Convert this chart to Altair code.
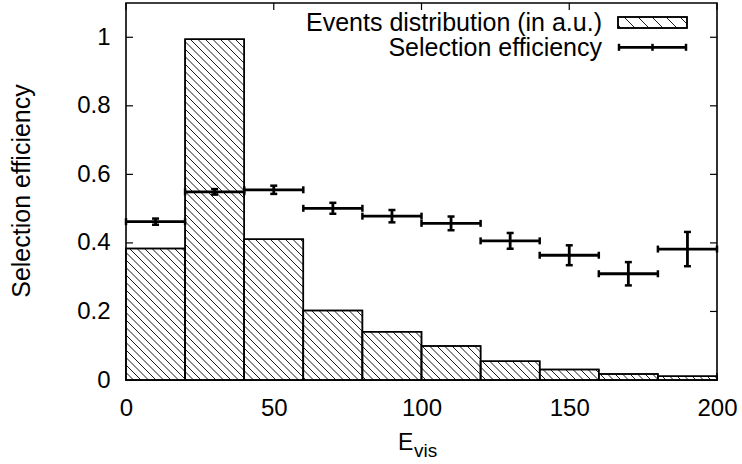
import math
import altair as alt
import pandas as pd

# ---------------- data ----------------
bin_lo = [0, 20, 40, 60, 80, 100, 120, 140, 160, 180]
bin_hi = [20, 40, 60, 80, 100, 120, 140, 160, 180, 200]
dist = [0.384, 0.994, 0.411, 0.203, 0.141, 0.099, 0.055, 0.031, 0.0175, 0.011]
eff_mid = [10, 30, 50, 70, 90, 110, 130, 150, 170, 190]
eff = [0.462, 0.549, 0.555, 0.501, 0.478, 0.457, 0.406, 0.364, 0.310, 0.382]
eff_err = [0.009, 0.008, 0.012, 0.016, 0.018, 0.020, 0.023, 0.029, 0.034, 0.050]
x_ticks = [0, 50, 100, 150, 200]
y_ticks = [0, 0.2, 0.4, 0.6, 0.8, 1.0]
legend_labels = ["Events distribution (in a.u.)", "Selection efficiency"]
x_title_main = "E"
x_title_sub = "vis"
y_title = "Selection efficiency"

# ---------------- layout / style ----------------
W, H = 591, 377
X_MAX, Y_MAX = 200, 1.1
FONT = "Liberation Sans"
sx = W / X_MAX
sy = H / Y_MAX
HATCH_STEP = 7.5

xs = alt.Scale(domain=[0, X_MAX], nice=False, zero=False)
ys = alt.Scale(domain=[0, Y_MAX], nice=False, zero=False)


def hatch_segments(u0, u1, h, step, phase=0.0):
    """'\\' hatch lines (u + w = c) clipped to the box [u0,u1] x [0,h] (pixels)."""
    segs = []
    c = math.floor((u0 - phase) / step) * step + phase
    while c < u1 + h:
        ua = max(u0, c - h)
        ub = min(u1, c)
        if ub - ua > 0.3:
            segs.append((ua, c - ua, ub, c - ub))
        c += step
    return segs


bars = pd.DataFrame({"lo": bin_lo, "hi": bin_hi, "v": dist})

rows = []
for lo, hi, v in zip(bin_lo, bin_hi, dist):
    for ua, wa, ub, wb in hatch_segments(lo * sx, hi * sx, v * sy, HATCH_STEP):
        rows.append({"x1": ua / sx, "y1": wa / sy, "x2": ub / sx, "y2": wb / sy})
hatch = pd.DataFrame(rows)

effdf = pd.DataFrame({
    "lo": bin_lo, "hi": bin_hi, "mid": eff_mid, "e": eff,
    "elo": [e - d for e, d in zip(eff, eff_err)],
    "ehi": [e + d for e, d in zip(eff, eff_err)],
})

xt = pd.DataFrame({"x": x_ticks})
yt = pd.DataFrame({"y": y_ticks})

X_AXIS = alt.Axis(values=x_ticks, title=None, ticks=False, tickSize=0, domain=False,
                  grid=False, labelFontSize=24, labelFont=FONT, labelColor="black",
                  labelPadding=16, labelFlush=False)
Y_AXIS = alt.Axis(values=y_ticks, format="~g", title=None, ticks=False, tickSize=0,
                  domain=False, grid=False, labelFontSize=24, labelFont=FONT,
                  labelColor="black", labelPadding=16, labelFlush=False)


def X(f):
    return alt.X(f, scale=xs, axis=X_AXIS)


def Y(f):
    return alt.Y(f, scale=ys, axis=Y_AXIS)


layers = []

# inward ticks on all four sides
TL = 7
layers.append(alt.Chart(yt).mark_rule(color="black", strokeWidth=1.2).encode(
    y=Y("y:Q"), x=alt.value(0), x2=alt.value(TL)))
layers.append(alt.Chart(yt).mark_rule(color="black", strokeWidth=1.2).encode(
    y=Y("y:Q"), x=alt.value(W - TL), x2=alt.value(W)))
layers.append(alt.Chart(xt).mark_rule(color="black", strokeWidth=1.2).encode(
    x=X("x:Q"), y=alt.value(0), y2=alt.value(TL)))
layers.append(alt.Chart(xt).mark_rule(color="black", strokeWidth=1.2).encode(
    x=X("x:Q"), y=alt.value(H - TL), y2=alt.value(H)))

# histogram bars
layers.append(alt.Chart(bars).mark_rect(fill="white", stroke="black", strokeWidth=1.5).encode(
    x=X("lo:Q"), x2="hi:Q", y=Y("v:Q"), y2=alt.datum(0)))
# hatching
layers.append(alt.Chart(hatch).mark_rule(color="black", strokeWidth=0.9).encode(
    x=X("x1:Q"), x2="x2:Q", y=Y("y1:Q"), y2="y2:Q"))
# bar outlines on top of hatching
layers.append(alt.Chart(bars).mark_rect(fill=None, stroke="black", strokeWidth=1.5).encode(
    x=X("lo:Q"), x2="hi:Q", y=Y("v:Q"), y2=alt.datum(0)))

# efficiency with x/y error bars
SW = 2.8
layers.append(alt.Chart(effdf).mark_rule(color="black", strokeWidth=SW).encode(
    x=X("lo:Q"), x2="hi:Q", y=Y("e:Q")))
layers.append(alt.Chart(effdf).mark_rule(color="black", strokeWidth=SW).encode(
    x=X("mid:Q"), y=Y("elo:Q"), y2="ehi:Q"))
for fld in ["elo", "ehi"]:
    layers.append(alt.Chart(effdf).mark_tick(color="black", orient="horizontal", size=7,
                                             thickness=2.5, opacity=1).encode(
        x=X("mid:Q"), y=Y(f"{fld}:Q")))
for fld in ["lo", "hi"]:
    layers.append(alt.Chart(effdf).mark_tick(color="black", orient="vertical", size=7,
                                             thickness=2.5, opacity=1).encode(
        x=X(f"{fld}:Q"), y=Y("e:Q")))

# ---------------- legend ----------------
one = pd.DataFrame({"a": [0]})
LX = 476          # right edge of legend text (plot coords)
BX0, BX1 = 492, 561
BY0, BY1 = 14, 25
L1Y, L2Y = 28, 53
EY = 44.3

for lab, yy in zip(legend_labels, [L1Y, L2Y]):
    layers.append(alt.Chart(pd.DataFrame({"t": [lab]})).mark_text(
        align="right", baseline="alphabetic", fontSize=25, font=FONT, color="black").encode(
        text="t:N", x=alt.value(LX), y=alt.value(yy)))

layers.append(alt.Chart(one).mark_rect(fill="white", stroke="black", strokeWidth=1.5).encode(
    x=alt.value(BX0), x2=alt.value(BX1), y=alt.value(BY0), y2=alt.value(BY1)))
for ua, wa, ub, wb in hatch_segments(BX0, BX1, BY1 - BY0, 14.0, phase=5.0):
    layers.append(alt.Chart(one).mark_rule(color="black", strokeWidth=0.9).encode(
        x=alt.value(ua), x2=alt.value(ub), y=alt.value(BY1 - wa), y2=alt.value(BY1 - wb)))
layers.append(alt.Chart(one).mark_rect(fill=None, stroke="black", strokeWidth=1.5).encode(
    x=alt.value(BX0), x2=alt.value(BX1), y=alt.value(BY0), y2=alt.value(BY1)))

layers.append(alt.Chart(one).mark_rule(color="black", strokeWidth=SW).encode(
    x=alt.value(BX0), x2=alt.value(BX1), y=alt.value(EY)))
for cx in [BX0 + 1, (BX0 + BX1) / 2, BX1 - 1]:
    layers.append(alt.Chart(one).mark_rule(color="black", strokeWidth=2.5).encode(
        x=alt.value(cx), y=alt.value(EY - 3.5), y2=alt.value(EY + 3.5)))

# ---------------- axis titles ----------------
layers.append(alt.Chart(pd.DataFrame({"t": [y_title]})).mark_text(
    angle=270, align="center", baseline="middle", fontSize=25, font=FONT, color="black").encode(
    text="t:N", x=alt.value(-104), y=alt.value(188)))
layers.append(alt.Chart(pd.DataFrame({"t": [x_title_main]})).mark_text(
    align="left", baseline="alphabetic", fontSize=23, font=FONT, color="black").encode(
    text="t:N", x=alt.value(272), y=alt.value(447)))
layers.append(alt.Chart(pd.DataFrame({"t": [x_title_sub]})).mark_text(
    align="left", baseline="alphabetic", fontSize=19, font=FONT, color="black").encode(
    text="t:N", x=alt.value(288), y=alt.value(454)))

chart = alt.layer(*layers).properties(
    width=W, height=H,
    autosize=alt.AutoSizeParams(type="none"),
    padding={"left": 126, "top": 3, "right": 25, "bottom": 84},
    background="white",
).configure_view(stroke="black", strokeWidth=1.6)

chart.save("out.html", embed_options={"renderer": "svg", "actions": False})
